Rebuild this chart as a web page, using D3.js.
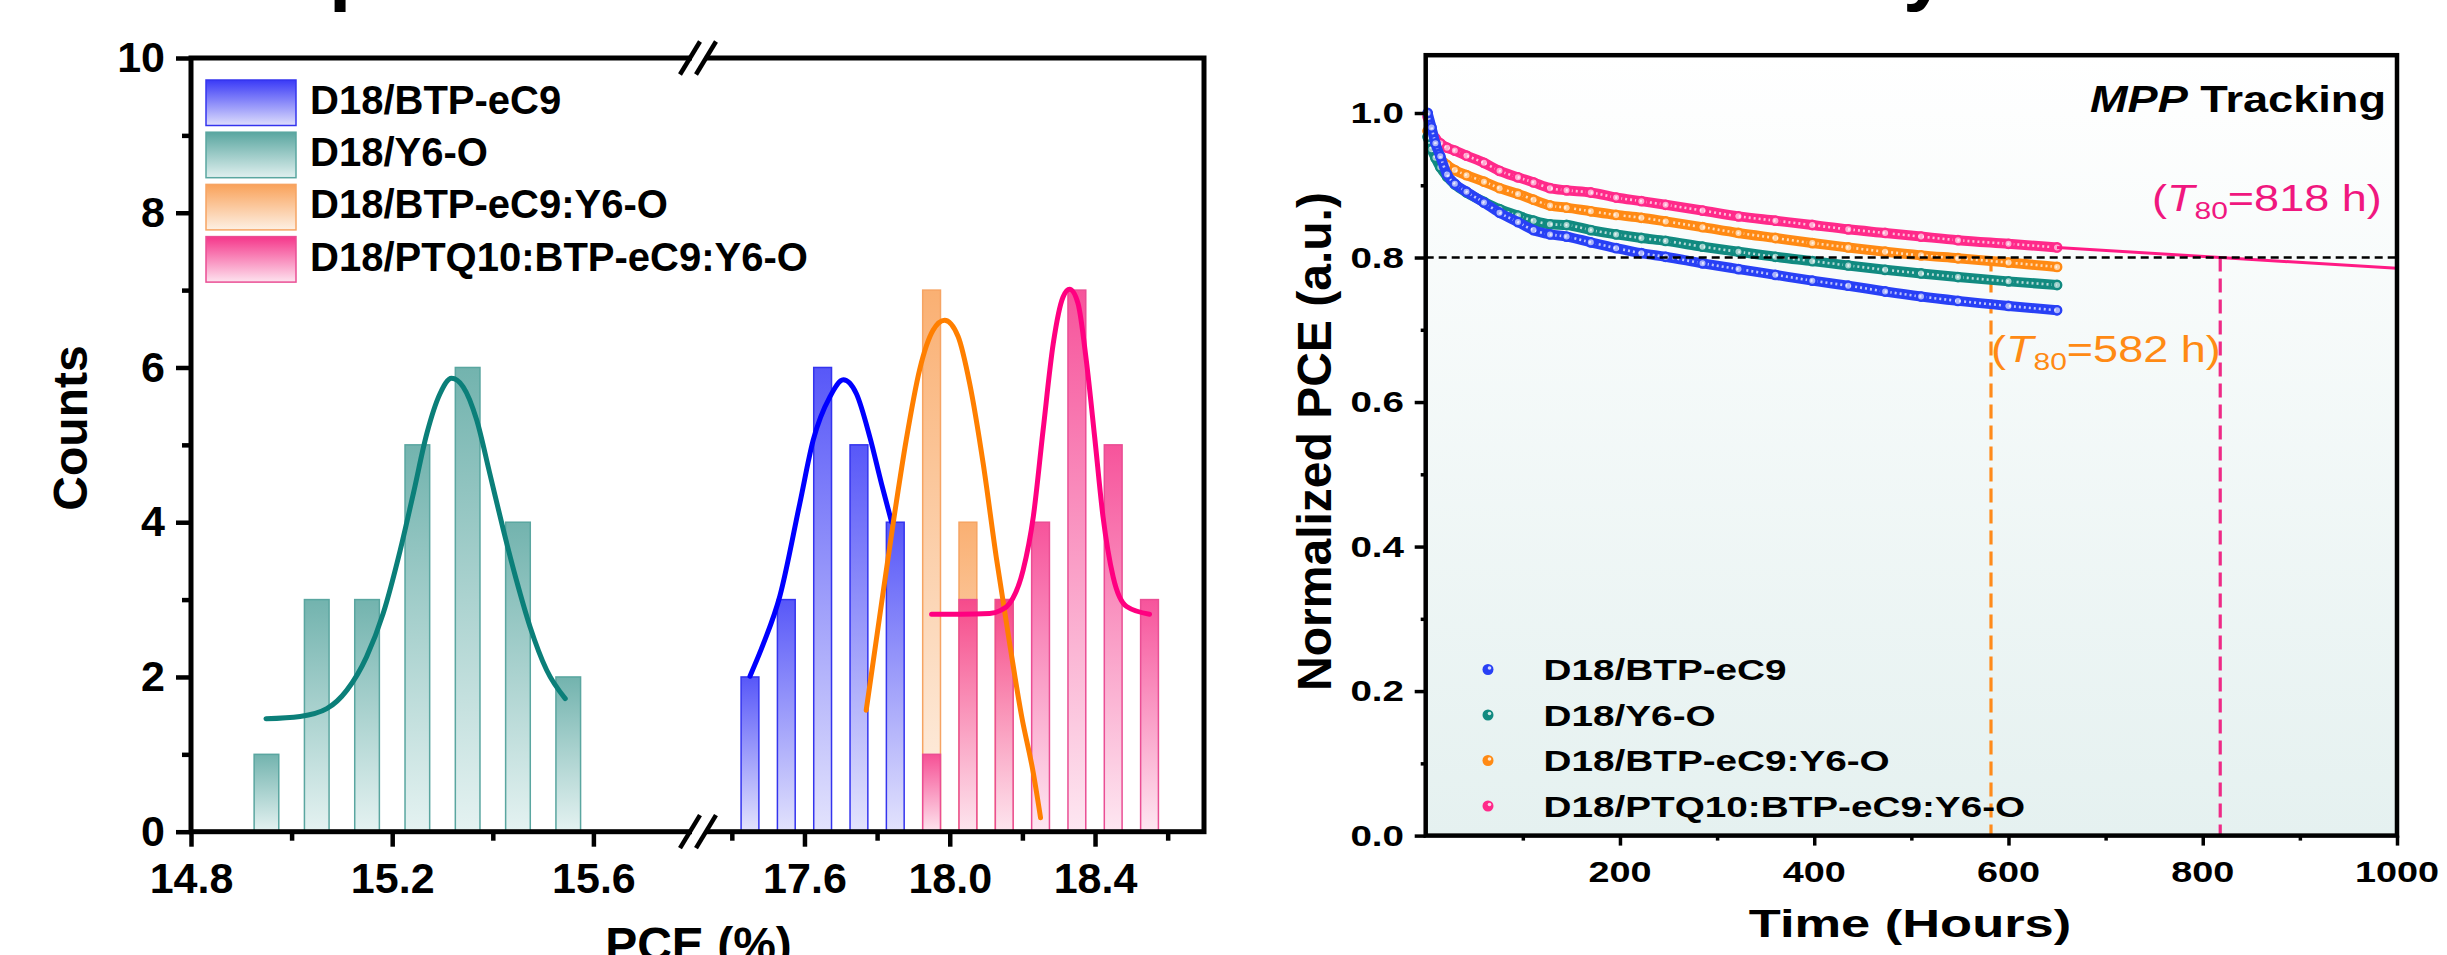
<!DOCTYPE html>
<html>
<head>
<meta charset="utf-8">
<script src="https://cdn.jsdelivr.net/npm/d3@7"></script>
<style>
  html, body { margin: 0; padding: 0; background: #fff; }
  svg { display: block; font-family: Arial, "Liberation Sans", sans-serif; }
</style>
</head>
<body>
<div id="root"></div>
<script>
// ---------- histogram (left panel): counts per 0.1 % PCE bin ----------
const y6oBins = [14.95, 15.05, 15.15, 15.25, 15.35, 15.45, 15.55];
const y6oCounts = [1, 3, 3, 5, 6, 4, 2];
const ec9Bins = [17.45, 17.55, 17.65, 17.75, 17.85];
const ec9Counts = [2, 3, 6, 5, 4];
const ternBins = [17.95, 18.05, 18.15];
const ternCounts = [7, 4, 3];
const quatBins = [17.95, 18.05, 18.15, 18.25, 18.35, 18.45, 18.55];
const quatCounts = [1, 3, 3, 4, 7, 5, 3];

// gaussian fit lines as [PCE, count]
const y6oFit = [[14.949, 1.46], [15.017, 1.49], [15.07, 1.59], [15.11, 1.83], [15.149, 2.26],
  [15.182, 2.82], [15.216, 3.64], [15.242, 4.37], [15.269, 5.15], [15.295, 5.66], [15.318, 5.86],
  [15.341, 5.75], [15.368, 5.32], [15.394, 4.63], [15.421, 3.90], [15.447, 3.25], [15.474, 2.65],
  [15.507, 2.09], [15.544, 1.72]];
const ec9Fit = [[17.45, 2.01], [17.487, 2.43], [17.532, 3.04], [17.587, 4.24], [17.624, 5.06],
  [17.67, 5.62], [17.707, 5.84], [17.743, 5.66], [17.78, 5.10], [17.812, 4.50], [17.84, 4.0]];
const ternFit = [[17.77, 1.57], [17.807, 2.78], [17.844, 3.98], [17.88, 5.06], [17.917, 5.97],
  [17.954, 6.48], [17.986, 6.61], [18.023, 6.40], [18.055, 5.79], [18.092, 4.76], [18.128, 3.55],
  [18.165, 2.43], [18.198, 1.49], [18.23, 0.76], [18.25, 0.18]];
const quatFit = [[17.95, 2.81], [18.03, 2.81], [18.11, 2.82], [18.14, 2.86], [18.165, 2.95],
  [18.202, 3.38], [18.23, 4.07], [18.257, 5.19], [18.285, 6.31], [18.312, 6.91], [18.33, 7.01],
  [18.353, 6.83], [18.376, 6.09], [18.399, 5.10], [18.422, 4.07], [18.45, 3.29], [18.487, 2.91],
  [18.55, 2.81]];

const countTicks = [0, 2, 4, 6, 8, 10];
const countMinor = [1, 3, 5, 7, 9];
const pceTicksA = [14.8, 15.2, 15.6];
const pceMinorA = [15.0, 15.4];
const pceTicksB = [17.6, 18.0, 18.4];
const pceMinorB = [17.4, 17.8, 18.2, 18.6];

// ---------- MPP tracking (right panel) ----------
const hours = [2, 6, 10, 15, 22, 30, 42, 60, 76, 95, 111, 128, 145, 170, 196, 222, 247, 285,
  322, 360, 398, 435, 473, 510, 548, 600, 650];
const ec9Norm = [1.000, 0.980, 0.958, 0.940, 0.915, 0.902, 0.891, 0.876, 0.862, 0.849, 0.838,
  0.832, 0.829, 0.821, 0.813, 0.806, 0.801, 0.792, 0.784, 0.776, 0.768, 0.761, 0.753, 0.746,
  0.740, 0.733, 0.727];
const y6oNorm = [0.967, 0.950, 0.938, 0.925, 0.912, 0.901, 0.890, 0.877, 0.867, 0.858, 0.851,
  0.846, 0.845, 0.838, 0.832, 0.827, 0.823, 0.815, 0.808, 0.801, 0.795, 0.789, 0.783, 0.778,
  0.773, 0.767, 0.762];
const ternNorm = [0.975, 0.960, 0.948, 0.937, 0.928, 0.921, 0.914, 0.905, 0.896, 0.888, 0.880,
  0.872, 0.869, 0.864, 0.859, 0.855, 0.850, 0.842, 0.834, 0.827, 0.820, 0.814, 0.808, 0.803,
  0.799, 0.793, 0.787];
const quatNorm = [0.995, 0.975, 0.965, 0.958, 0.952, 0.948, 0.941, 0.931, 0.920, 0.911, 0.904,
  0.896, 0.893, 0.890, 0.883, 0.878, 0.873, 0.865, 0.857, 0.851, 0.845, 0.839, 0.834, 0.829,
  0.824, 0.819, 0.814];
const quatExtrap = [[650, 0.814], [1000, 0.785]];
const t80Level = 0.8;
const t80Tern = 582;
const t80Quat = 818;

const timeTicks = [200, 400, 600, 800, 1000];
const timeMinor = [100, 300, 500, 700, 900];
const normTicks = [0, 0.2, 0.4, 0.6, 0.8, 1.0];
const normMinor = [0.1, 0.3, 0.5, 0.7, 0.9];

const legendNames = ['D18/BTP-eC9', 'D18/Y6-O', 'D18/BTP-eC9:Y6-O', 'D18/PTQ10:BTP-eC9:Y6-O'];

// ---------- styles ----------
const sty = {
  ec9: { line: '#0000ff', top: '#3a3af7', bot: '#dedefc', edge: '#3434ee', dot: '#2840f5' },
  y6o: { line: '#0b7f79', top: '#5aa6a0', bot: '#e0f0ef', edge: '#5aa6a0', dot: '#118a80' },
  tern: { line: '#ff7f00', top: '#f9a25a', bot: '#fdf0e4', edge: '#f6a463', dot: '#ff8a14' },
  quat: { line: '#ff0080', top: '#f5368a', bot: '#fde3ef', edge: '#ea4e94', dot: '#ff2a8a' }
};
const legendKeys = ['ec9', 'y6o', 'tern', 'quat'];

const svg = d3.select('#root').append('svg')
  .attr('width', 2447)
  .attr('height', 955);
const defs = svg.append('defs');

legendKeys.forEach(k => {
  const gr = defs.append('linearGradient').attr('id', 'grad-' + k)
    .attr('x1', 0).attr('y1', 0).attr('x2', 0).attr('y2', 1);
  gr.append('stop').attr('offset', '0%').attr('stop-color', sty[k].top);
  gr.append('stop').attr('offset', '100%').attr('stop-color', sty[k].bot);
});
const bg = defs.append('linearGradient').attr('id', 'plotBg')
  .attr('x1', 0).attr('y1', 0).attr('x2', 0).attr('y2', 1);
bg.append('stop').attr('offset', '0%').attr('stop-color', '#ffffff');
bg.append('stop').attr('offset', '100%').attr('stop-color', '#e5f1f0');

const FONT = 'Arial, "Liberation Sans", sans-serif';

// cut-off title fragments at the very top
svg.append('text').attr('x', 329).attr('y', -5).attr('font-size', 80)
  .attr('font-weight', 'bold').text('p');
svg.append('text').attr('x', 1903).attr('y', -5).attr('font-size', 80)
  .attr('font-weight', 'bold').text('y');

// =================== LEFT PANEL ===================
const xA = d3.scaleLinear().domain([14.8, 15.8]).range([191, 694]);
const xB = d3.scaleLinear().domain([17.3, 18.7]).range([695.5, 1204]);
const xPce = v => (v < 16.5 ? xA(v) : xB(v));
const yCnt = d3.scaleLinear().domain([0, 10]).range([831.7, 58]);

const left = svg.append('g');
const halfBar = 0.0245;

function drawBars(bins, counts, k) {
  left.append('g').selectAll('rect')
    .data(bins.map((b, i) => [b, counts[i]]))
    .join('rect')
    .attr('x', d => xPce(d[0] - halfBar))
    .attr('width', d => xPce(d[0] + halfBar) - xPce(d[0] - halfBar))
    .attr('y', d => yCnt(d[1]))
    .attr('height', d => yCnt(0) - yCnt(d[1]))
    .attr('fill', 'url(#grad-' + k + ')')
    .attr('fill-opacity', 0.85)
    .attr('stroke', sty[k].edge)
    .attr('stroke-width', 1.5);
}
drawBars(y6oBins, y6oCounts, 'y6o');
drawBars(ec9Bins, ec9Counts, 'ec9');
drawBars(ternBins, ternCounts, 'tern');
drawBars(quatBins, quatCounts, 'quat');

const fitLine = d3.line().x(d => xPce(d[0])).y(d => yCnt(d[1])).curve(d3.curveMonotoneX);
[[y6oFit, 'y6o'], [ec9Fit, 'ec9'], [ternFit, 'tern'], [quatFit, 'quat']].forEach(([f, k]) => {
  left.append('path').attr('d', fitLine(f)).attr('fill', 'none')
    .attr('stroke', sty[k].line).attr('stroke-width', 5).attr('stroke-linecap', 'round');
});

function styleAxis(g, sw, fs) {
  g.select('.domain').remove();
  g.selectAll('.tick line').attr('stroke', '#000').attr('stroke-width', sw);
  g.attr('font-size', fs).attr('font-family', FONT).attr('font-weight', 'bold');
  g.selectAll('.tick text').attr('fill', '#000');
}

const fmt1 = d3.format('.1f');
[[xA, pceTicksA, pceMinorA], [xB, pceTicksB, pceMinorB]].forEach(([sc, maj, mn]) => {
  const gM = left.append('g').attr('transform', 'translate(0,831.7)')
    .call(d3.axisBottom(sc).tickValues(maj).tickSize(15).tickPadding(16).tickFormat(fmt1));
  styleAxis(gM, 4.5, 43);
  const gm = left.append('g').attr('transform', 'translate(0,831.7)')
    .call(d3.axisBottom(sc).tickValues(mn).tickSize(9).tickFormat(''));
  styleAxis(gm, 4.5, 43);
});
const gy = left.append('g').attr('transform', 'translate(191,0)')
  .call(d3.axisLeft(yCnt).tickValues(countTicks).tickSize(15).tickPadding(11));
styleAxis(gy, 4.5, 43);
const gym = left.append('g').attr('transform', 'translate(191,0)')
  .call(d3.axisLeft(yCnt).tickValues(countMinor).tickSize(9).tickFormat(''));
styleAxis(gym, 4.5, 43);

// frame
const fL = 191, fR = 1204, fT = 58, fB = 831.7;
left.append('rect').attr('x', fL).attr('y', fT).attr('width', fR - fL).attr('height', fB - fT)
  .attr('fill', 'none').attr('stroke', '#000').attr('stroke-width', 5);

// axis break marks
const breakX = 698;
[fT, fB].forEach(yy => {
  left.append('polygon')
    .attr('points', [[breakX - 8, yy + 6], [breakX + 8, yy - 6], [breakX + 8, yy + 6 - 12 + 12], [breakX - 8, yy - 6 + 12]].join(' '))
    .attr('fill', '#fff');
  left.append('rect').attr('x', breakX - 6).attr('y', yy - 4).attr('width', 12).attr('height', 8)
    .attr('fill', '#fff');
  [-8, 8].forEach(dx => {
    left.append('line')
      .attr('x1', breakX + dx - 10).attr('y1', yy + 16.5)
      .attr('x2', breakX + dx + 10).attr('y2', yy - 16.5)
      .attr('stroke', '#000').attr('stroke-width', 4.5);
  });
});

// legend
legendNames.forEach((nm, i) => {
  const k = legendKeys[i];
  const top = 80 + i * 52.2;
  left.append('rect').attr('x', 206).attr('y', top).attr('width', 90).attr('height', 45.5)
    .attr('fill', 'url(#grad-' + k + ')').attr('stroke', sty[k].edge).attr('stroke-width', 1.5);
  left.append('text').attr('x', 310).attr('y', top + 34).attr('font-size', 40)
    .attr('font-weight', 'bold').text(nm);
});

left.append('text').attr('transform', 'translate(87,428) rotate(-90)')
  .attr('text-anchor', 'middle').attr('font-size', 48).attr('font-weight', 'bold').text('Counts');
left.append('text').attr('x', 698.5).attr('y', 961).attr('text-anchor', 'middle')
  .attr('font-size', 48).attr('font-weight', 'bold').text('PCE (%)');

// =================== RIGHT PANEL ===================
const xT = d3.scaleLinear().domain([0, 1000]).range([1425.7, 2397]);
const yN = d3.scaleLinear().domain([0, 1.08]).range([835.6, 55.2]);
const right = svg.append('g');

right.append('rect').attr('x', xT(0)).attr('y', yN(1.08))
  .attr('width', xT(1000) - xT(0)).attr('height', yN(0) - yN(1.08))
  .attr('fill', 'url(#plotBg)');

// T80 guide lines
right.append('line').attr('x1', xT(t80Tern)).attr('x2', xT(t80Tern))
  .attr('y1', yN(t80Level)).attr('y2', yN(0))
  .attr('stroke', '#ff8a1a').attr('stroke-width', 3.2).attr('stroke-dasharray', '14 7');
right.append('line').attr('x1', xT(t80Quat)).attr('x2', xT(t80Quat))
  .attr('y1', yN(t80Level)).attr('y2', yN(0))
  .attr('stroke', '#ee2a86').attr('stroke-width', 3.2).attr('stroke-dasharray', '14 7');

const decayLine = d3.line().x(d => xT(d[0])).y(d => yN(d[1])).curve(d3.curveMonotoneX);
[[quatNorm, 'quat'], [ternNorm, 'tern'], [y6oNorm, 'y6o'], [ec9Norm, 'ec9']].forEach(([vals, k]) => {
  const pts = hours.map((h, i) => [h, vals[i]]);
  const g = right.append('g');
  g.append('path').attr('d', decayLine(pts)).attr('fill', 'none')
    .attr('stroke', sty[k].dot).attr('stroke-width', 10).attr('stroke-linecap', 'round');
  g.append('path').attr('d', decayLine(pts)).attr('fill', 'none')
    .attr('stroke', '#fff').attr('stroke-opacity', 0.7).attr('stroke-width', 2.6)
    .attr('stroke-dasharray', '2 3');
  g.selectAll('circle').data(pts).join('circle')
    .attr('cx', d => xT(d[0])).attr('cy', d => yN(d[1])).attr('r', 4.2)
    .attr('fill', '#fff').attr('fill-opacity', 0.6)
    .attr('stroke', sty[k].dot).attr('stroke-width', 2.4);
});

right.append('path').attr('d', d3.line().x(d => xT(d[0])).y(d => yN(d[1]))(quatExtrap))
  .attr('fill', 'none').attr('stroke', '#ff1a84').attr('stroke-width', 3);

right.append('line').attr('x1', xT(0)).attr('x2', xT(1000))
  .attr('y1', yN(t80Level)).attr('y2', yN(t80Level))
  .attr('stroke', '#000').attr('stroke-width', 2.6).attr('stroke-dasharray', '8 5');

// axes
const gxT = right.append('g').attr('transform', `translate(0,${yN(0)})`)
  .call(d3.axisBottom(xT).tickValues(timeTicks).tickSize(10).tickFormat(''));
styleAxis(gxT, 3.5, 30);
const gxTm = right.append('g').attr('transform', `translate(0,${yN(0)})`)
  .call(d3.axisBottom(xT).tickValues(timeMinor).tickSize(5).tickFormat(''));
styleAxis(gxTm, 3.5, 30);
const gyN = right.append('g').attr('transform', `translate(${xT(0)},0)`)
  .call(d3.axisLeft(yN).tickValues(normTicks).tickSize(11).tickFormat(''));
styleAxis(gyN, 3.5, 30);
const gyNm = right.append('g').attr('transform', `translate(${xT(0)},0)`)
  .call(d3.axisLeft(yN).tickValues(normMinor).tickSize(5).tickFormat(''));
styleAxis(gyNm, 3.5, 30);

right.append('rect').attr('x', xT(0)).attr('y', yN(1.08))
  .attr('width', xT(1000) - xT(0)).attr('height', yN(0) - yN(1.08))
  .attr('fill', 'none').attr('stroke', '#000').attr('stroke-width', 4.5);

// stretched labels (the panel's lettering is wider than plain Arial)
function wideText(x, y, sx, anchor, size, weight) {
  return right.append('text')
    .attr('transform', `translate(${x},${y}) scale(${sx},1)`)
    .attr('text-anchor', anchor).attr('font-size', size).attr('font-weight', weight);
}
timeTicks.forEach(v => wideText(xT(v), 881.7, 1.26, 'middle', 30, 'bold').text(v));
normTicks.forEach(v => wideText(1404, yN(v) + 10.4, 1.33, 'end', 29, 'bold').text(fmt1(v)));

wideText(1910, 937, 1.38, 'middle', 38, 'bold').text('Time (Hours)');
right.append('text').attr('transform', 'translate(1331,441.5) rotate(-90)')
  .attr('text-anchor', 'middle').attr('font-size', 48).attr('font-weight', 'bold')
  .text('Normalized PCE (a.u.)');

const mpp = wideText(2386, 111.7, 1.22, 'end', 37, 'bold');
mpp.append('tspan').attr('font-style', 'italic').text('MPP');
mpp.append('tspan').text(' Tracking');

function t80Label(x, y, color, val) {
  const t = wideText(x, y, 1.25, 'start', 36, 'normal').attr('fill', color);
  t.append('tspan').text('(');
  t.append('tspan').attr('font-style', 'italic').text('T');
  t.append('tspan').attr('font-size', 24).attr('dy', 8).text('80');
  t.append('tspan').attr('dy', -8).text('=' + val + ' h)');
}
t80Label(2152, 210.5, '#f0177f', t80Quat);
t80Label(1991, 362, '#ff8a14', t80Tern);

// right legend
legendNames.forEach((nm, i) => {
  const k = legendKeys[i];
  const cy = 669.5 + i * 45.5;
  right.append('circle').attr('cx', 1488).attr('cy', cy).attr('r', 5.5).attr('fill', sty[k].dot);
  right.append('circle').attr('cx', 1489.5).attr('cy', cy - 1.5).attr('r', 1.8).attr('fill', '#fff')
    .attr('fill-opacity', 0.8);
  wideText(1543.6, cy + 10.5, 1.29, 'start', 30, 'bold').text(nm);
});
</script>
</body>
</html>
